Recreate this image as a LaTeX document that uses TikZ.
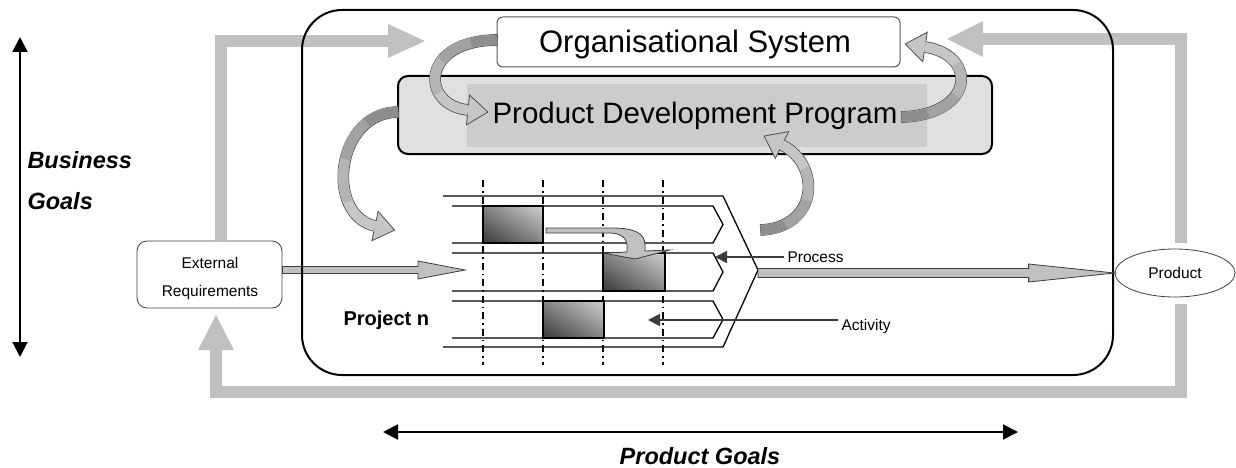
\documentclass[tikz,border=0pt]{standalone}
\usepackage{fontspec}
\setmainfont{Liberation Sans}
\usetikzlibrary{arrows.meta,calc,shapes.geometric,shadings}
\definecolor{loopgray}{HTML}{C0C0C0}
\definecolor{ribbonA}{HTML}{C6C6C6}
\definecolor{ribbonB}{HTML}{B4B4B4}
\definecolor{ribbonC}{HTML}{A2A2A2}
\definecolor{ribbonD}{HTML}{8E8E8E}
\definecolor{ribbonline}{HTML}{505050}
\definecolor{pdpout}{HTML}{E0E0E0}
\definecolor{pdpin}{HTML}{CCCCCC}
\definecolor{darkline}{HTML}{3C3C3C}
\newcommand{\myfs}[1]{\fontsize{#1}{#1}\selectfont}
% ribbon arrow: start, control1, control2, end, end angle, approx. length
\newcommand{\ribbonarrow}[6]{%
  \pgfmathsetmacro\rla{0.72*#6}%
  \pgfmathsetmacro\rlb{0.46*#6}%
  \pgfmathsetmacro\rlc{0.2*#6}%
  \filldraw[fill=ribbonA, draw=ribbonline, line width=0.8pt]
    ($#4+({#5+90}:15)$) -- ($#4+({#5}:20)$) -- ($#4+({#5-90}:15)$) -- cycle;
  \draw[ribbonline, line width=11.6pt, shorten <=-0.8pt] #1 .. controls #2 and #3 .. #4;
  \draw[ribbonA, line width=10pt] #1 .. controls #2 and #3 .. #4;
  \draw[ribbonB, line width=10pt, dash pattern=on \rla pt off 3000pt] #1 .. controls #2 and #3 .. #4;
  \draw[ribbonC, line width=10pt, dash pattern=on \rlb pt off 3000pt] #1 .. controls #2 and #3 .. #4;
  \draw[ribbonD, line width=10pt, dash pattern=on \rlc pt off 3000pt] #1 .. controls #2 and #3 .. #4;
  \draw[ribbonA, line width=10pt] #4 -- ($#4+({#5}:1.5)$);
}
\tikzset{
  loopline/.style={draw=loopgray, line width=12pt, line join=miter},
  loophead/.style={fill=loopgray},
  bigbox/.style={draw=black, line width=2pt, rounded corners=40pt},
  orgbox/.style={draw=black!65, line width=1pt, rounded corners=6pt, fill=white,
    minimum width=403pt, minimum height=50pt},
  pdpbox/.style={draw=black, line width=2pt, rounded corners=10pt, fill=pdpout,
    minimum width=594pt, minimum height=78pt},
  pdpinner/.style={fill=pdpin, minimum width=460pt, minimum height=63pt},
  extbox/.style={draw=black!75, line width=0.8pt, rounded corners=10pt, fill=white,
    minimum width=145pt, minimum height=67pt},
  prodell/.style={ellipse, draw=black!75, line width=0.8pt, fill=white,
    minimum width=120pt, minimum height=48pt, inner sep=0pt},
  lane/.style={draw=black, line width=1.3pt},
  dashv/.style={draw=black, line width=1.3pt, dash pattern=on 7pt off 4pt on 1.5pt off 4pt},
  actbox/.style={draw=black, line width=1.3pt, lower left=black!78, upper right=black!18,
    upper left=black!48, lower right=black!48},
  grayarrow/.style={fill=loopgray, draw=darkline, line width=0.8pt},
  pointer/.style={draw=darkline, line width=2pt, -{Triangle[length=12pt,width=12pt]}},
  goalarrow/.style={draw=black, line width=2pt,
    {Triangle[length=15pt,width=15pt]}-{Triangle[length=15pt,width=15pt]}},
  small/.style={font=\myfs{15.5}},
  goal/.style={font=\myfs{23.5}\bfseries\itshape},
}
\begin{document}
\begin{tikzpicture}[x=1pt,y=-1pt]
\useasboundingbox (0,0) rectangle (1236,468);

% main nodes (positions)
\node[extbox] (ext) at (209.5,274.5) {};
\node[prodell] (prod) at (1175,273) {};
\coordinate (tlturn) at (221,41);
\coordinate (tlhead) at (388,41);
\coordinate (trturn) at (1181,39);
\coordinate (trhead) at (983,39);
\coordinate (brturn) at (1181,392);
\coordinate (blturn) at (216,392);
\coordinate (blhead) at (216,350);

% gray feedback loops
\draw[loopline] (221,241) -- (tlturn) -- (tlhead);
\fill[loophead] ($(tlhead)+(0,-17)$) -- ($(tlhead)+(37,0)$) -- ($(tlhead)+(0,17)$) -- cycle;
\draw[loopline] (1181,243) -- (trturn) -- (trhead);
\fill[loophead] ($(trhead)+(0,-18)$) -- ($(trhead)+(-36,0)$) -- ($(trhead)+(0,18)$) -- cycle;
\draw[loopline] (1181,304) -- (brturn) -- (blturn) -- (blhead);
\fill[loophead] ($(blhead)+(-18,0)$) -- ($(blhead)+(0,-35)$) -- ($(blhead)+(18,0)$) -- cycle;

% arrow from external requirements into the project
\coordinate (lanein) at (465,270);
\filldraw[grayarrow] ($(ext.east)+(0,-8)$) -- (418,266.5) -- (418,261) -- (lanein)
  -- (418,279) -- (418,273.5) -- ($(ext.east)+(0,-1)$) -- cycle;

% big system box
\draw[bigbox] (302,10) rectangle (1113,375);

% organisational system
\node[orgbox] (org) at (698.5,42) {};
\node[anchor=base, font=\myfs{31}] (orgtext) at (695,53) {Organisational System};

% product development program
\node[pdpbox] (pdp) at (695,115) {};
\node[pdpinner] (pdpin) at (697,115.5) {};
\node[anchor=base, font=\myfs{29.5}] (pdptext) at (695,123.5) {Product Development Program};

% curved ribbon arrows
\ribbonarrow{(497,40)}{(420,40)}{(420,105)}{(468,110)}{6}{133}
\ribbonarrow{(902,117)}{(975,115)}{(978,55)}{(925,47)}{188.6}{130}
\ribbonarrow{(398,112)}{(335,112)}{(325,215)}{(375,226)}{12}{167}
\ribbonarrow{(761,230)}{(818,228)}{(822,165)}{(782,145)}{206.6}{126}

% project: time lines
\foreach \xx in {483,543,603,663}
  \draw[dashv] (\xx,180) -- (\xx,365);
% process chevron
\draw[lane] (443,196) -- (723,196) -- (758,270) -- (723,347) -- (443,347);
\coordinate (projtip) at (758,273);
% activity lanes
\foreach \yt/\yb in {206/243, 253/291, 301/338}
  \draw[lane] (452,\yt) -- (713,\yt) -- (723,{(\yt+\yb)/2}) -- (713,\yb) -- (452,\yb);
% activities
\shadedraw[actbox] (483,206) rectangle (543,243);
\shadedraw[actbox] (603,253) rectangle (665,291);
\shadedraw[actbox] (543,301) rectangle (604,338);
% bent arrow between activities
\filldraw[grayarrow] (546,228) -- (612,228) .. controls (636,228) and (645,234) .. (645,245)
  -- (645,251) -- (670,250) -- (635,259) -- (603,253) -- (627,252) -- (627,245)
  .. controls (627,238) and (620,233) .. (610,233) -- (546,233) -- cycle;

\node[anchor=base west, font=\myfs{20}\bfseries] (projn) at (340,325) {Project n};

% process / activity pointers
\node[anchor=base west, small] (proc) at (784,262) {Process};
\node[anchor=base west, small] (act) at (838,330) {Activity};
\coordinate (proctip) at (715,257);
\coordinate (acttip) at (648,320);
\draw[pointer] (proc.west |- proctip) -- (proctip);
\draw[pointer] (act.west |- acttip) -- (acttip);

% output arrow to product
\filldraw[grayarrow] ($(projtip)+(0,-4.5)$) -- ($(prod.west)+(-86,-4.5)$) -- ($(prod.west)+(-86,-9)$)
  -- (prod.west) -- ($(prod.west)+(-86,9)$) -- ($(prod.west)+(-86,4.5)$) -- ($(projtip)+(0,4.5)$) -- cycle;
\node[small] (prodtext) at (prod.center) {Product};

% external requirements text
\node[anchor=base, small] (ext1) at (210,268) {External};
\node[anchor=base, small] (ext2) at (210,296) {Requirements};

% goals
\coordinate (bgtop) at (20,37);
\coordinate (bgbot) at (20,357);
\draw[goalarrow] (bgtop) -- (bgbot);
\node[anchor=base west, goal] (bg1) at (24,168) {Business};
\node[anchor=base west, goal] (bg2) at (24,209) {Goals};
\coordinate (pgl) at (383,432);
\coordinate (pgr) at (1018,432);
\draw[goalarrow] (pgl) -- (pgr);
\node[anchor=base, goal] (pg) at (700,464) {Product Goals};
\end{tikzpicture}
\end{document}
